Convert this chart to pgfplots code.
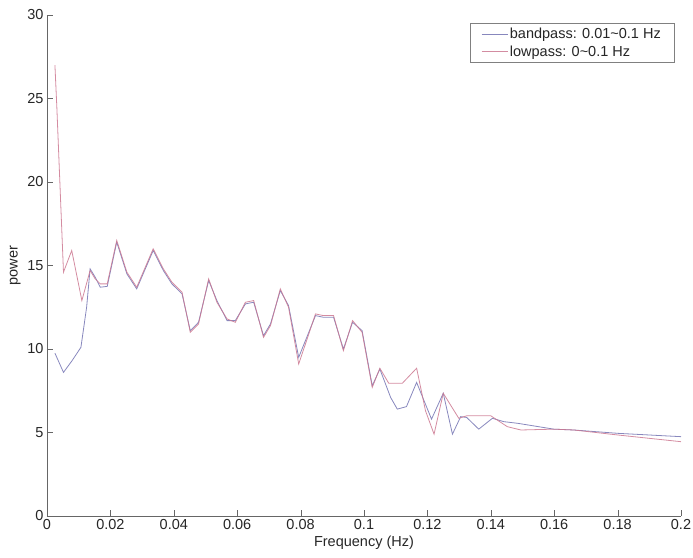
\documentclass[border=0pt]{standalone}
\usepackage{fontspec}
\setmainfont{Liberation Sans}
\usepackage{pgfplots}
\usepackage{pgfplotstable}
\pgfplotsset{compat=1.18}

\definecolor{bandc}{rgb}{0.45,0.45,0.70}
\definecolor{lowc}{rgb}{0.80,0.47,0.57}
\def\lbl{\fontsize{14.5bp}{17bp}\selectfont}

% bandpass 0.01-0.1 Hz
\pgfplotstableread{
f      p
0.0025 9.75
0.0052 8.6
0.0079 9.3
0.0107 10.1
0.0125 12.5
0.0136 14.8
0.0152 14.3
0.0168 13.7
0.0190 13.75
0.0220 16.4
0.0252 14.5
0.0283 13.6
0.0335 15.9
0.0367 14.7
0.0394 13.9
0.0426 13.3
0.0452 11.1
0.0478 11.6
0.0510 14.1
0.0536 12.9
0.0568 11.7
0.0594 11.7
0.0626 12.7
0.0652 12.8
0.0683 10.8
0.0705 11.5
0.0736 13.5
0.0762 12.6
0.0794 9.5
0.0847 12.0
0.0872 11.9
0.0904 11.9
0.0935 10.0
0.0964 11.6
0.0994 11.1
0.1026 7.8
0.1050 8.8
0.1084 7.1
0.1105 6.4
0.1134 6.55
0.1166 8.0
0.1213 5.8
0.1250 7.35
0.1279 4.9
0.1305 5.95
0.1324 5.9
0.1362 5.2
0.1405 5.85
0.1441 5.65
0.1485 5.55
0.1599 5.2
0.1662 5.15
0.1801 4.95
0.2000 4.75
}\bandpass

% lowpass 0-0.1 Hz
\pgfplotstableread{
f      p
0.0025 27.0
0.0031 24.5
0.0052 14.6
0.0078 15.9
0.0110 12.9
0.0136 14.7
0.0152 14.2
0.0168 13.9
0.0190 13.9
0.0220 16.5
0.0252 14.6
0.0283 13.7
0.0335 16.0
0.0367 14.8
0.0394 14.0
0.0426 13.4
0.0452 11.0
0.0478 11.5
0.0510 14.2
0.0536 12.8
0.0568 11.8
0.0594 11.6
0.0626 12.8
0.0652 12.9
0.0683 10.7
0.0705 11.4
0.0736 13.6
0.0762 12.5
0.0794 9.1
0.0847 12.1
0.0872 12.0
0.0904 12.0
0.0935 9.9
0.0964 11.7
0.0994 11.0
0.1026 7.7
0.1050 8.85
0.1078 7.95
0.1121 7.95
0.1166 8.85
0.1194 6.3
0.1221 4.9
0.1250 7.35
0.1299 5.85
0.1324 6.0
0.1400 6.0
0.1452 5.35
0.1495 5.15
0.1599 5.2
0.1662 5.15
0.1801 4.85
0.2000 4.45
}\lowpass

\begin{document}
\begin{tikzpicture}
\begin{axis}[
  name=ax,
  scale only axis,
  width=634bp, height=501bp,
  xmin=0, xmax=0.2, ymin=0, ymax=30,
  axis lines=left,
  axis line style={-, black!60},
  tick align=inside,
  major tick length=6bp,
  tick style={black!60},
  xtick={0,0.02,0.04,0.06,0.08,0.1,0.12,0.14,0.16,0.18,0.2},
  xticklabels={0,0.02,0.04,0.06,0.08,0.1,0.12,0.14,0.16,0.18,0.2},
  ytick={0,5,10,15,20,25,30},
  yticklabels={0,5,10,15,20,25,30},
  tick label style={font=\lbl, text=black!85},
  xlabel={Frequency (Hz)},
  ylabel={power},
  label style={font=\lbl, text=black!85},
  xlabel style={yshift=1bp},
  legend style={at={(1,1)}, anchor=north east, xshift=-7bp, yshift=-8bp,
    draw=black!50, font=\lbl, text=black!85, inner xsep=11bp, inner ysep=3bp,
    row sep=1.5bp, cells={anchor=west}},
  legend image code/.code={\draw[#1] (0bp,0bp) -- (26bp,0bp);},
]
\addplot[bandc, line width=0.8bp, opacity=0.85] table[x=f, y=p] {\bandpass};
\addplot[lowc, line width=0.8bp, opacity=0.85] table[x=f, y=p] {\lowpass};
\legend{bandpass: 0.01\textasciitilde0.1 Hz, lowpass: 0\textasciitilde0.1 Hz}
\end{axis}
\pgfresetboundingbox
\path (ax.south west) ++(-47bp,-42bp) rectangle ([xshift=12bp,yshift=15bp]ax.north east);
\end{tikzpicture}
\end{document}
